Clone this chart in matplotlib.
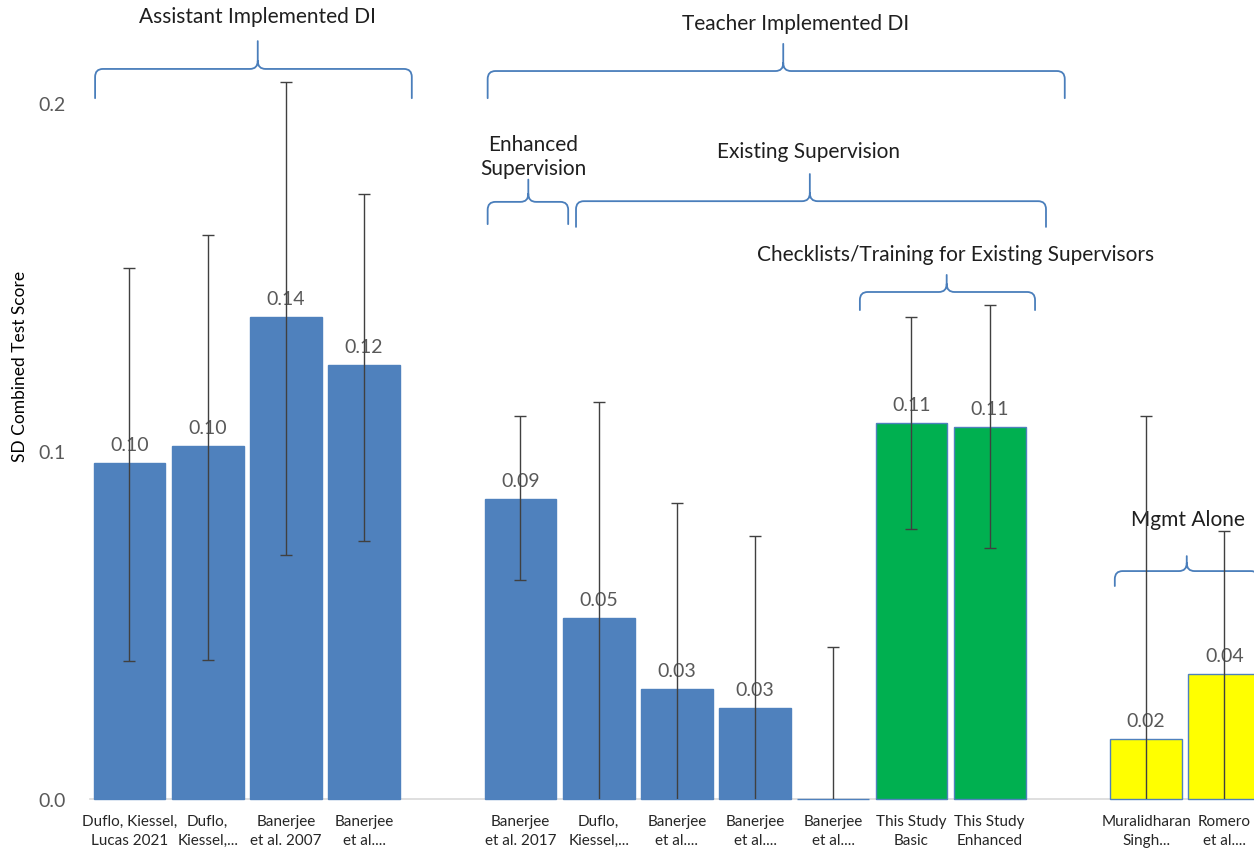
import numpy as np
import matplotlib
matplotlib.use('Agg')
import matplotlib.pyplot as plt
from matplotlib.path import Path
from matplotlib.patches import PathPatch

plt.rcParams['font.family'] = ['Lato', 'DejaVu Sans']

# categories (blank = empty slot between groups)
labels = ['Duflo, Kiessel,\nLucas 2021', 'Duflo,\nKiessel,...', 'Banerjee\net al. 2007',
          'Banerjee\net al....', '', 'Banerjee\net al. 2017', 'Duflo,\nKiessel,...',
          'Banerjee\net al....', 'Banerjee\net al....', 'Banerjee\net al....',
          'This Study\nBasic', 'This Study\nEnhanced', '', 'Muralidharan\nSingh...',
          'Romero\net al....']
values = [0.0966, 0.1014, 0.1385, 0.1247, np.nan, 0.0862, 0.0520, 0.0316, 0.0262,
          0.0, 0.1080, 0.1070, np.nan, 0.0172, 0.0360]
ci_low = [0.0397, 0.0400, 0.0700, 0.0740, np.nan, 0.0630, -0.030, -0.030, -0.030,
          -0.040, 0.0776, 0.0720, np.nan, -0.030, -0.030]
ci_high = [0.1526, 0.1620, 0.2060, 0.1740, np.nan, 0.1100, 0.1140, 0.0850, 0.0756,
           0.0437, 0.1385, 0.1420, np.nan, 0.1100, 0.0770]
groups = ['assist', 'assist', 'assist', 'assist', None, 'teach', 'teach', 'teach', 'teach',
          'teach', 'study', 'study', None, 'mgmt', 'mgmt']
group_colors = {'assist': '#4F81BD', 'teach': '#4F81BD', 'study': '#00B050', 'mgmt': '#FFFF00'}

# bracket annotations: text, x0, x1, tip x, end y, line y, tip y, text x, text y
brackets = [
    ('Assistant Implemented DI', -0.44, 3.61, 1.64, 0.2014, 0.2098, 0.2178, 1.64, 0.2250),
    ('Teacher Implemented DI', 4.58, 11.96, 8.36, 0.2014, 0.2092, 0.2170, 8.52, 0.2230),
    ('Enhanced\nSupervision', 4.58, 5.61, 5.10, 0.1652, 0.1716, 0.1780, 5.16, 0.1848),
    ('Existing Supervision', 5.71, 11.72, 8.70, 0.1644, 0.1718, 0.1796, 8.68, 0.1862),
    ('Checklists/Training for Existing Supervisors', 9.34, 11.58, 10.45, 0.1405, 0.1457, 0.1506, 10.56, 0.1566),
    ('Mgmt Alone', 12.60, 14.44, 13.52, 0.0612, 0.0655, 0.0698, 13.54, 0.0805),
]


def brace(ax, x0, x1, xm, y_end, y_line, y_tip, rx=0.1, ry=0.0023):
    verts = [(x0, y_end), (x0, y_line - ry), (x0, y_line), (x0 + rx, y_line),
             (xm - rx, y_line), (xm, y_line), (xm, y_line + ry), (xm, y_tip),
             (xm, y_line + ry), (xm, y_line), (xm + rx, y_line),
             (x1 - rx, y_line), (x1, y_line), (x1, y_line - ry), (x1, y_end)]
    codes = [Path.MOVETO, Path.LINETO, Path.CURVE3, Path.CURVE3,
             Path.LINETO, Path.CURVE3, Path.CURVE3, Path.LINETO,
             Path.MOVETO, Path.CURVE3, Path.CURVE3,
             Path.LINETO, Path.CURVE3, Path.CURVE3, Path.LINETO]
    ax.add_patch(PathPatch(Path(verts, codes), fill=False, edgecolor='#4A7EBB',
                           lw=1.3, clip_on=False, capstyle='round', joinstyle='round'))


fig = plt.figure(figsize=(12.54, 8.53), dpi=100)
ax = fig.add_axes([90.4 / 1254, 53 / 853, 1 - 90.4 / 1254, 800 / 853])

x = np.arange(len(labels))
vals = np.array(values)
cols = [group_colors[g] if g else 'none' for g in groups]
bars = ax.bar(x, np.nan_to_num(vals), width=0.92, color=cols,
              edgecolor=['#4F81BD' if g else 'none' for g in groups],
              linewidth=1.0, zorder=3)
for b in bars:
    b.set_clip_on(False)

ok = ~np.isnan(vals)
lo = vals[ok] - np.array(ci_low)[ok]
hi = np.array(ci_high)[ok] - vals[ok]
ax.errorbar(x[ok], vals[ok], yerr=[lo, hi], fmt='none', ecolor='#404040',
            elinewidth=1, capsize=4.5, capthick=1, zorder=5)

for xi, v in zip(x, values):
    if np.isnan(v) or v == 0:
        continue
    ax.annotate(f'{v:.2f}', (xi, v), xytext=(0, 7), textcoords='offset points',
                ha='center', va='bottom', fontsize=14, color='#595959', zorder=4)

for txt, x0, x1, xm, ye, yl, yt, tx, ty in brackets:
    brace(ax, x0, x1, xm, ye, yl, yt)
    ax.text(tx, ty, txt, ha='center', va='center', fontsize=15, color='#1F1F1F',
            linespacing=1.25)

ax.set_xlim(-0.5, 14.38)
ax.set_ylim(0, 0.2299)
ax.set_yticks([0.0, 0.1, 0.2])
ax.set_yticklabels(['0.0', '0.1', '0.2'])
ax.set_xticks(x)
ax.set_xticklabels(labels, fontsize=11, color='#262626', linespacing=1.45)
ax.tick_params(axis='x', length=0, pad=11)
ax.tick_params(axis='y', length=0, pad=18, labelsize=14, labelcolor='#595959')
for s in ['top', 'right', 'left']:
    ax.spines[s].set_visible(False)
ax.spines['bottom'].set_color('#D9D9D9')
ax.spines['bottom'].set_linewidth(1.2)
ax.spines['bottom'].set_zorder(1)

fig.text(20 / 1254, 1 - 366 / 853, 'SD Combined Test Score', rotation=90,
         ha='center', va='center', fontsize=12.5, color='black')

fig.savefig('out.png', dpi=100)
